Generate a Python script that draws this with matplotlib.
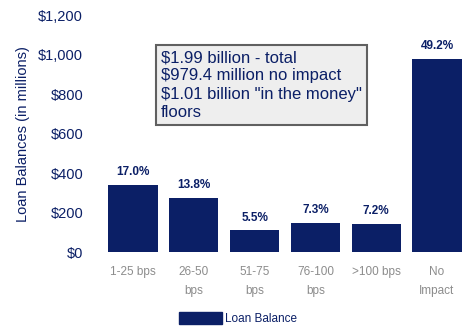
import matplotlib.pyplot as plt
from matplotlib.patches import Patch
from matplotlib.ticker import FuncFormatter

plt.rcParams['font.family'] = ['Liberation Sans', 'DejaVu Sans']

categories = ['1-25 bps', '26-50\nbps', '51-75\nbps', '76-100\nbps', '>100 bps', 'No\nImpact']
balances = [338, 275, 109, 145, 143, 979.4]
pct_labels = ['17.0%', '13.8%', '5.5%', '7.3%', '7.2%', '49.2%']

navy = '#0b1f66'
grey = '#8c8c8c'

fig = plt.figure(figsize=(4.63, 3.29), dpi=100)
ax = fig.add_axes([0.2215, 0.234, 0.788, 0.72])

x = range(len(categories))
ax.bar(x, balances, width=0.81, color=navy)
for xi, v, lab in zip(x, balances, pct_labels):
    ax.text(xi, v + 35, lab, ha='center', va='bottom', fontsize=8.5,
            fontweight='bold', color=navy)

ax.set_xlim(-0.5, 5.5)
ax.set_ylim(0, 1200)
ax.set_yticks(range(0, 1201, 200))
ax.yaxis.set_major_formatter(FuncFormatter(lambda v, p: f'${v:,.0f}'))
ax.set_xticks(list(x))
ax.set_xticklabels(categories, fontsize=8.5, color=grey, linespacing=1.75)
ax.tick_params(axis='y', labelsize=10.5, labelcolor=navy, length=0, pad=14)
ax.tick_params(axis='x', length=0, pad=10)
for s in ax.spines.values():
    s.set_visible(False)

ax.set_ylabel('Loan Balances (in millions)', fontsize=10.5, color=navy, labelpad=6)

# summary box over the small buckets
ax.text(0.16, 0.705,
        '$1.99 billion - total\n$979.4 million no impact\n'
        '$1.01 billion "in the money"\nfloors',
        transform=ax.transAxes, ha='left', va='center', fontsize=12,
        color=navy, linespacing=1.27,
        bbox=dict(boxstyle='square,pad=0.32', facecolor='#eeeeee',
                  edgecolor='#606060', linewidth=1.5))

fig.legend(handles=[Patch(color=navy, label='Loan Balance')],
           loc='lower center', bbox_to_anchor=(0.515, -0.02), frameon=False,
           fontsize=8.5, handlelength=3.6, handleheight=1.1,
           handletextpad=0.3, labelcolor=navy)

fig.savefig('out.png', dpi=100)
